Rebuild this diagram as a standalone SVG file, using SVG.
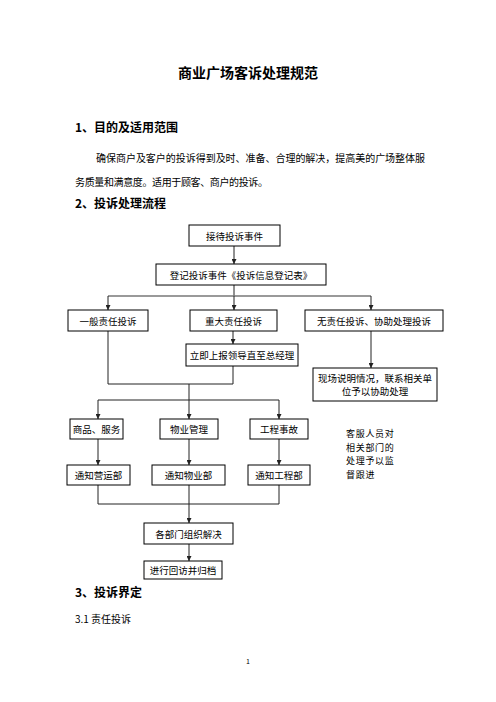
<svg xmlns="http://www.w3.org/2000/svg" width="496" height="702" viewBox="0 0 496 702">
<defs>
<style>
text{font-family:"Noto Sans CJK SC","Liberation Sans",sans-serif;fill:#000}
.t{font-size:14px;font-weight:bold}
.h{font-size:12px;font-weight:bold}
.p{font-size:10px}
.b{font-size:9.5px;text-anchor:middle;dominant-baseline:central}
.n{font-size:9px;letter-spacing:0.7px}
rect{fill:#fff;stroke:#000;stroke-width:1}
.c line,.c path{stroke:#222;stroke-width:1;fill:none}
.c .g{stroke:#777;stroke-width:1.5}
</style>
<marker id="a" viewBox="0 0 6 6" refX="6" refY="3" markerWidth="5" markerHeight="5" orient="auto"><path d="M0,0 L6,3 L0,6 z" fill="#222"/></marker>
</defs>
<rect x="0" y="0" width="496" height="702" style="fill:#fff;stroke:none"/>
<text class="t" x="248" y="78" text-anchor="middle">商业广场客诉处理规范</text>
<text class="h" x="75" y="132">1、目的及适用范围</text>
<text class="p" x="96" y="162" textLength="329" lengthAdjust="spacing">确保商户及客户的投诉得到及时、准备、合理的解决，提高美的广场整体服</text>
<text class="p" x="75" y="186" textLength="193" lengthAdjust="spacing">务质量和满意度。适用于顾客、商户的投诉。</text>
<text class="h" x="75" y="208">2、投诉处理流程</text>
<text class="h" x="75" y="597">3、投诉界定</text>
<text class="p" x="75" y="623">3.1  责任投诉</text>
<text x="248" y="664" text-anchor="middle" style="font-size:7px">1</text>

<g class="c">
<line x1="234" y1="246" x2="234" y2="264" marker-end="url(#a)"/>
<line x1="234" y1="285" x2="234" y2="296"/>
<line class="g" x1="108" y1="296" x2="371" y2="296"/>
<line x1="108" y1="296" x2="108" y2="310" marker-end="url(#a)"/>
<line x1="234" y1="296" x2="234" y2="310" marker-end="url(#a)"/>
<line x1="371" y1="296" x2="371" y2="310" marker-end="url(#a)"/>
<line x1="233" y1="331" x2="233" y2="344" marker-end="url(#a)"/>
<line x1="371" y1="331" x2="371" y2="368" marker-end="url(#a)"/>
<path d="M108,331 V384 H233 V366"/>
<line x1="189" y1="384" x2="189" y2="419" marker-end="url(#a)"/>
<line x1="98" y1="400" x2="279" y2="400"/>
<line x1="98" y1="400" x2="98" y2="419" marker-end="url(#a)"/>
<line x1="279" y1="400" x2="279" y2="419" marker-end="url(#a)"/>
<line x1="98" y1="439" x2="98" y2="465" marker-end="url(#a)"/>
<line x1="189" y1="439" x2="189" y2="465" marker-end="url(#a)"/>
<line x1="279" y1="439" x2="279" y2="465" marker-end="url(#a)"/>
<line x1="98" y1="485" x2="98" y2="504"/>
<line x1="189" y1="485" x2="189" y2="504"/>
<line x1="279" y1="485" x2="279" y2="504"/>
<line x1="98" y1="504" x2="279" y2="504"/>
<line x1="189" y1="504" x2="189" y2="523" marker-end="url(#a)"/>
<line x1="189" y1="544" x2="189" y2="561" marker-end="url(#a)"/>
</g>

<g id="n1"><rect x="189" y="225" width="91" height="21"/><text class="b" x="234.5" y="235.5">接待投诉事件</text></g>
<g id="n2"><rect x="156" y="264" width="170" height="21"/><text class="b" x="241" y="274.5">登记投诉事件《投诉信息登记表》</text></g>
<g id="n3"><rect x="68" y="310" width="80" height="21"/><text class="b" x="108" y="320.5">一般责任投诉</text></g>
<g id="n4"><rect x="190" y="310" width="87" height="21"/><text class="b" x="233.5" y="320.5">重大责任投诉</text></g>
<g id="n5"><rect x="305" y="310" width="138" height="21"/><text class="b" x="374" y="320.5">无责任投诉、协助处理投诉</text></g>
<g id="n6"><rect x="186" y="344" width="112" height="22"/><text class="b" x="242" y="355">立即上报领导直至总经理</text></g>
<g id="n7"><rect x="313" y="368" width="124" height="33"/><text class="b" x="375" y="378">现场说明情况，联系相关单</text><text class="b" x="375" y="391">位予以协助处理</text></g>
<g id="n8"><rect x="70" y="419" width="53" height="20"/><text class="b" x="96.5" y="429">商品、服务</text></g>
<g id="n9"><rect x="160" y="419" width="58" height="20"/><text class="b" x="189" y="429">物业管理</text></g>
<g id="n10"><rect x="250" y="419" width="58" height="20"/><text class="b" x="279" y="429">工程事故</text></g>
<g id="n11"><rect x="67" y="465" width="63" height="20"/><text class="b" x="98.5" y="475">通知营运部</text></g>
<g id="n12"><rect x="152" y="465" width="73" height="20"/><text class="b" x="188.5" y="475">通知物业部</text></g>
<g id="n13"><rect x="248" y="465" width="62" height="20"/><text class="b" x="279" y="475">通知工程部</text></g>
<g id="n14"><rect x="144" y="523" width="89" height="21"/><text class="b" x="188.5" y="533.5">各部门组织解决</text></g>
<g id="n15"><rect x="144" y="561" width="78" height="18"/><text class="b" x="183" y="570">进行回访并归档</text></g>
<g id="note">
<text class="n" x="346" y="437">客服人员对</text>
<text class="n" x="346" y="450.5">相关部门的</text>
<text class="n" x="346" y="464">处理予以监</text>
<text class="n" x="346" y="477.5">督跟进</text>
</g>
</svg>
